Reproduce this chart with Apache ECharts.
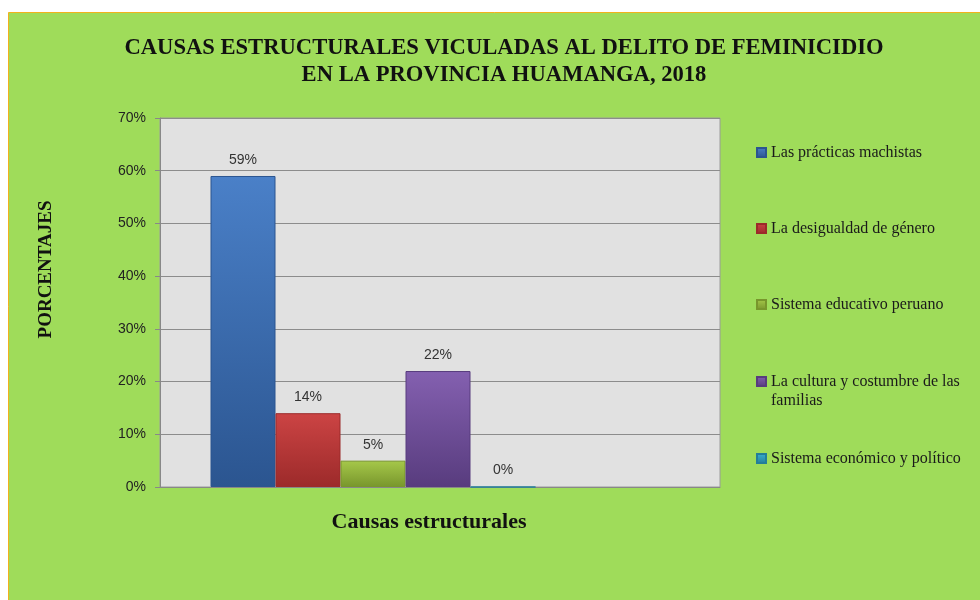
<!DOCTYPE html>
<html>
<head>
<meta charset="utf-8">
<script src="https://cdn.jsdelivr.net/npm/echarts@6/dist/echarts.min.js"></script>
<style>
html,body{margin:0;padding:0;background:#fff;}
#chart{width:980px;height:600px;}
</style>
</head>
<body>
<div id="chart"></div>
<script>
const titleLines = ['CAUSAS ESTRUCTURALES VICULADAS AL DELITO DE FEMINICIDIO', 'EN LA PROVINCIA HUAMANGA, 2018'];
const category = ['Causas estructurales'];
const seriesNames = ['Las prácticas machistas', 'La desigualdad de género', 'Sistema educativo peruano', 'La cultura y costumbre de las familias', 'Sistema económico y político'];
const seriesValues = [59, 14, 5, 22, 0];
const yTicks = [0, 10, 20, 30, 40, 50, 60, 70];
const colorsTop = ['#4A80C8', '#CC4444', '#A6C84A', '#8460B0', '#3AB0D0'];
const colorsBottom = ['#2B5590', '#9C2A2A', '#78962C', '#583C7E', '#237E9A'];

const chart = echarts.init(document.getElementById('chart'), null, {renderer: 'canvas'});

const series = seriesNames.map((name, i) => ({
  name: name,
  type: 'bar',
  xAxisIndex: 1,
  yAxisIndex: 1,
  barWidth: 65,
  barGap: '0%',
  data: [seriesValues[i]],
  itemStyle: {
    color: new echarts.graphic.LinearGradient(0, 0, 0, 1, [
      {offset: 0, color: colorsTop[i]},
      {offset: 1, color: colorsBottom[i]}
    ]),
    borderColor: colorsBottom[i],
    borderWidth: 1
  },
  label: {
    show: true,
    position: 'top',
    distance: 9,
    formatter: '{c}%',
    fontFamily: 'Liberation Sans',
    fontSize: 14,
    color: '#333'
  }
}));

const legendText = {
  fontFamily: 'Liberation Serif',
  fontSize: 16,
  lineHeight: 19,
  color: '#1a1a1a'
};
function legendAt(names, top, gap) {
  return {
    orient: 'vertical',
    left: 751,
    top: top,
    itemGap: gap,
    itemWidth: 9,
    itemHeight: 9,
    icon: 'rect',
    formatter: function (n) {
      return n === seriesNames[3] ? '\nLa cultura y costumbre de las\nfamilias' : n;
    },
    textStyle: legendText,
    data: names
  };
}

chart.setOption({
  animation: false,
  backgroundColor: '#fff',
  graphic: [{
    type: 'rect',
    z: -10,
    shape: {x: 8.5, y: 12.5, width: 980, height: 600},
    style: {fill: '#9FDC5A', stroke: '#F2B21C', lineWidth: 1}
  }],
  title: {
    text: titleLines.join('\n'),
    left: 499,
    textAlign: 'center',
    top: 30,
    textStyle: {
      fontFamily: 'Liberation Serif',
      fontWeight: 'bold',
      fontSize: 22.6,
      lineHeight: 27,
      color: '#111'
    }
  },
  legend: [
    legendAt(seriesNames.slice(0, 3), 138, 57),
    legendAt([seriesNames[3]], 348, 10),
    legendAt([seriesNames[4]], 444, 10)
  ],
  grid: [
    {left: 160, right: 260, top: 118, bottom: 113, show: true, backgroundColor: '#E1E1E1', borderColor: '#9a9a9a', borderWidth: 1},
    {left: 159, width: 428, top: 118, bottom: 113}
  ],
  xAxis: [
    {
      type: 'category', gridIndex: 0, data: category,
      axisLabel: {show: false}, axisTick: {show: false},
      axisLine: {lineStyle: {color: '#888'}},
      name: category[0], nameLocation: 'middle', nameGap: 24,
      nameTextStyle: {fontFamily: 'Liberation Serif', fontWeight: 'bold', fontSize: 22, color: '#111', padding: [0, 22, 0, 0]}
    },
    {
      type: 'category', gridIndex: 1, data: category, show: false
    }
  ],
  yAxis: [
    {
      type: 'value', gridIndex: 0, min: 0, max: 70, interval: 10,
      axisLine: {show: true, lineStyle: {color: '#888'}},
      axisTick: {show: true, length: 5, lineStyle: {color: '#888'}},
      splitLine: {show: true, lineStyle: {color: '#8c8c8c', width: 1}},
      axisLabel: {
        formatter: function (v) { return yTicks.indexOf(v) >= 0 ? v + '%' : ''; },
        fontFamily: 'Liberation Sans', fontSize: 14, color: '#222', margin: 14
      },
      name: 'PORCENTAJES', nameLocation: 'middle', nameGap: 104, nameRotate: 90,
      nameTextStyle: {fontFamily: 'Liberation Serif', fontWeight: 'bold', fontSize: 19, color: '#111', padding: [0, 0, 0, 66]}
    },
    {
      type: 'value', gridIndex: 1, min: 0, max: 70, interval: 10, show: false,
      splitLine: {show: false}
    }
  ],
  series: series
});
</script>
</body>
</html>
